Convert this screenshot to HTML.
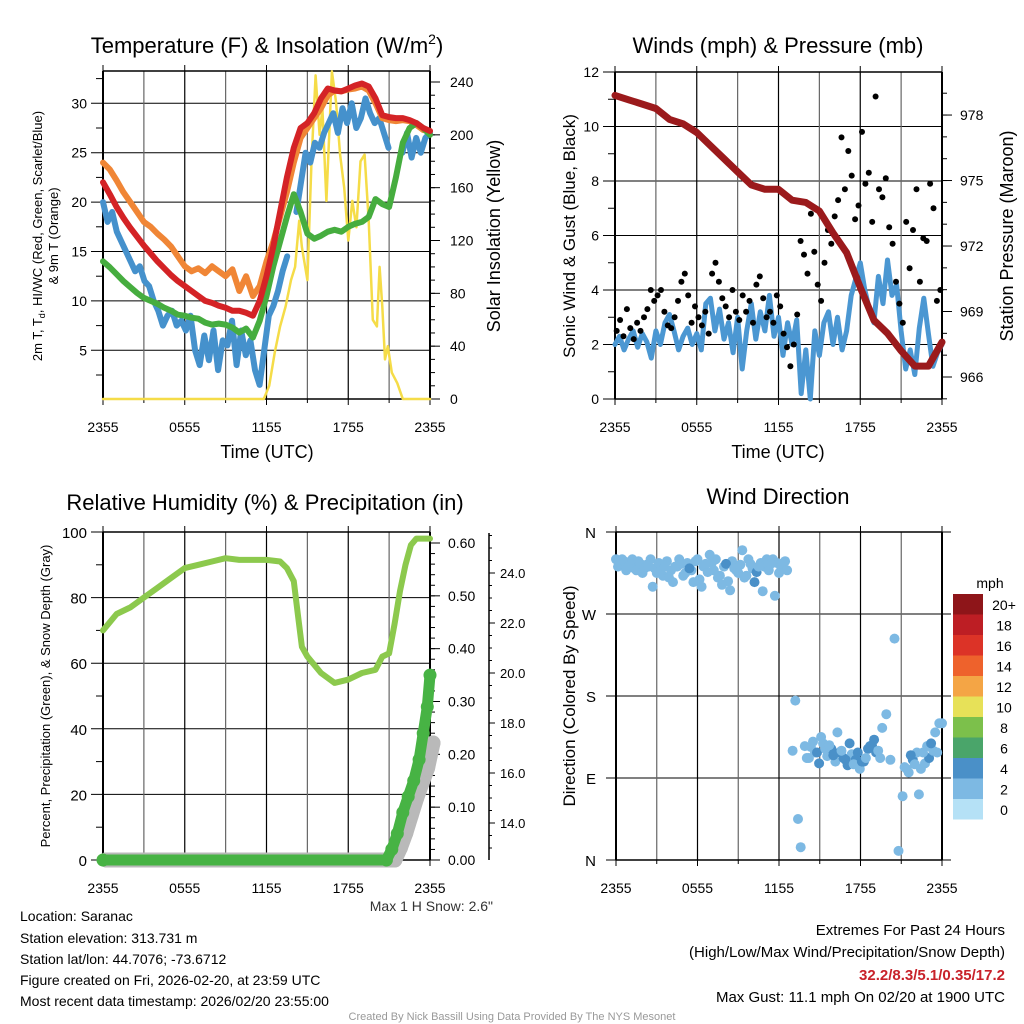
<!DOCTYPE html>
<html><head><meta charset="utf-8"><style>
body{margin:0;background:#fff}
svg{display:block;font-family:"Liberation Sans",sans-serif}
</style></head><body>
<svg id="s" width="1024" height="1024" viewBox="0 0 1024 1024" xmlns="http://www.w3.org/2000/svg">
<rect width="1024" height="1024" fill="#fff"/>
<g font-size="22" text-anchor="middle" fill="#000">
<text x="267" y="53">Temperature (F) &amp; Insolation (W/m<tspan font-size="14" dy="-9">2</tspan><tspan dy="9">)</tspan></text>
<text x="778" y="53">Winds (mph) &amp; Pressure (mb)</text>
<text x="265" y="510">Relative Humidity (%) &amp; Precipitation (in)</text>
<text x="778" y="504">Wind Direction</text>
</g>
<g font-size="18" text-anchor="middle">
<text x="267" y="458">Time (UTC)</text>
<text x="778" y="458">Time (UTC)</text>
<text transform="translate(500,236) rotate(-90)">Solar Insolation (Yellow)</text>
<text transform="translate(575,236) rotate(-90)" font-size="17">Sonic Wind &amp; Gust (Blue, Black)</text>
<text transform="translate(1013,236) rotate(-90)">Station Pressure (Maroon)</text>
<text transform="translate(575,696) rotate(-90)" font-size="17">Direction (Colored By Speed)</text>
</g>
<g font-size="13" text-anchor="middle">
<text transform="translate(42,236) rotate(-90)">2m T, T<tspan font-size="9" dy="3">d</tspan><tspan dy="-3">, HI/WC (Red, Green, Scarlet/Blue)</tspan></text>
<text transform="translate(58,236) rotate(-90)">&amp; 9m T (Orange)</text>
<text transform="translate(50,696) rotate(-90)">Percent, Precipitation (Green), &amp; Snow Depth (Gray)</text>
</g>
<text x="493" y="911" font-size="14" text-anchor="end" fill="#333">Max 1 H Snow: 2.6"</text>
<g font-size="14">
<text x="20" y="921">Location: Saranac</text>
<text x="20" y="943">Station elevation: 313.731 m</text>
<text x="20" y="964">Station lat/lon: 44.7076; -73.6712</text>
<text x="20" y="985">Figure created on Fri, 2026-02-20, at 23:59 UTC</text>
<text x="20" y="1006">Most recent data timestamp: 2026/02/20 23:55:00</text>
</g>
<g font-size="15" text-anchor="end">
<text x="1005" y="935">Extremes For Past 24 Hours</text>
<text x="1005" y="957">(High/Low/Max Wind/Precipitation/Snow Depth)</text>
<text x="1005" y="980" fill="#c8222a" font-weight="bold">32.2/8.3/5.1/0.35/17.2</text>
<text x="1005" y="1002">Max Gust: 11.1 mph On 02/20 at 1900 UTC</text>
</g>
<text x="512" y="1020" font-size="11" fill="#999" text-anchor="middle">Created By Nick Bassill Using Data Provided By The NYS Mesonet</text>
<g id="charts"></g>
</svg>
<script>
// ---- data ----
const xTickLabels = ["2355","0555","1155","1755","2355"];
const tempTicks = [5,10,15,20,25,30];
const solarTicks = [0,40,80,120,160,200,240];
const windTicks = [0,2,4,6,8,10,12];
const pressTicks = [966,969,972,975,978];
const rhTicks = [0,20,40,60,80,100];
const precipTicks = [0,0.1,0.2,0.3,0.4,0.5,0.6];
const snowTicks = [14,16,18,20,22,24];
const dirTicks = ["N","E","S","W","N"];
const legendLabels = ["20+","18","16","14","12","10","8","6","4","2","0"];
const orangeT = [24,23.3,22.2,21,20,19,18,17.5,16.8,16.2,15.5,14.5,13.5,13,13.3,12.8,13.5,13,12.5,13.2,11,12.5,10.5,11.5,14,16,18.5,21,24,26.5,27.5,28.5,29.5,30.8,31.3,31.2,31.4,31.5,31.7,31.3,30,28.5,28.3,28.2,28.3,28.2,27.8,27.3,27.2];
const redT = [22,20.8,19.5,18.4,17.4,16.5,15.6,14.8,14,13.3,12.6,12,11.5,11,10.5,10,9.8,9.5,9.3,9,9,8.8,8.5,10,12.5,15.5,19,22.5,25.5,27.5,28,29,30.5,31.5,31.3,31.2,31.5,31.8,32,31.7,30.5,28.8,28.6,28.5,28.5,28.3,28,27.5,27.2];
const greenTd = [14,13.4,12.7,12,11.4,10.8,10.3,10,9.7,9.3,9,8.6,8.5,8.3,8.2,7.8,7.6,7.7,7.6,7.3,6.8,7.2,6.3,8,10.5,13.5,16,18.5,20.8,19,16.8,16.3,16.6,17,17.2,17,17.5,17.8,18,18.5,20.3,19.8,19.5,22.5,26,27.5,28,27.5,26.8];
const blueWC = [20,18,19,17,16,15,14,13,13.5,12,11.5,10,9,7.5,8.5,9,7.5,8,7,8.5,5,3.5,6.5,4,7,3,6,5.5,8,3.5,7,4.5,6,3,1.5,5,8.5,9.5,11,13,14.5,null,19,22,25,24,26,25.5,27,28,29,27,29.5,28,30,27.5,28.5,30.5,29,28,28.5,27,25.5,null,null,25,27,24.5,26.5,25,26.5,27];
const solarTimes = [0,11.8,12.2,12.6,13,13.4,13.8,14.1,14.4,14.6,15,15.3,15.6,15.9,16.1,16.4,16.8,17.1,17.4,17.7,18,18.3,18.6,18.9,19.2,19.5,19.8,20.1,20.3,20.5,20.7,20.9,21.2,21.6,22,24];
const solarVals = [0,0,10,35,55,70,90,100,135,115,90,180,245,200,220,150,248,225,185,160,120,150,130,180,185,135,60,55,100,70,30,40,20,12,0,0];
const windSpd = [2,2.3,1.8,2.2,2.5,1.9,2.4,2.1,1.5,2.5,2,2.8,3.1,2.5,1.8,2.3,2.6,2,2.4,1.8,3.5,3.7,2.5,3.3,2.2,2.8,1.7,3,1.1,2.5,3.5,2.2,3.2,2.5,3.8,2.3,3,1.6,2.8,2,2.9,0.2,1.8,0,2.5,1.6,2.8,3.2,2,3,1.8,2.5,3.8,4.4,5,4,3.3,2.8,4.5,3.5,5.1,3.8,4.2,2.5,1.1,1.8,0.9,2.6,3.7,2.4,1.2,1.7,2];
const gusts = [2.5,2.9,2.3,3.3,2.6,2.2,2.8,2.5,3.0,3.3,4.0,3.6, 3.8,4.0,3.2,2.7,2.6,3.0,3.6,4.3,4.6,3.8,2.8,3.4, 3.0,2.7,3.2,2.4,4.6,5.0,4.3,3.7,3.4,3.0,4.0,3.2, 2.9,3.8,3.2,3.6,2.8,4.2,4.5,3.7,3.0,3.2,2.8,3.8, 3.4,2.4,1.9,1.2,2.0,3.1,5.8,5.3,4.6,6.8,5.4,4.2, 3.6,5.0,6.2,5.7,6.7,7.3,9.6,7.7,9.1,8.2,6.6,7.1, 9.8,7.9,8.3,6.5,11.1,7.7,7.4,8.1,6.3,5.7,4.3,3.5, 2.8,6.5,4.8,6.2,7.7,4.3,5.9,5.8,7.9,7.0,3.6,4.0];
const pressure = [978.9,978.7,978.5,978.3,977.8,977.6,977.2,976.6,976.0,975.4,974.8,974.6,974.6,974.1,974.0,973.6,972.6,971.7,970.1,968.6,968.0,967.2,966.5,966.5,967.6];
const rhTimes = [0,1,2,3,4,5,6,7,8,9,10,11,12,13,13.5,14,14.3,14.6,15,16,17,18,19,20,20.5,21,21.4,21.8,22.2,22.6,23,24];
const rhVals = [70,75,77,80,83,86,89,90,91,92,91.5,91.5,91.5,91,89,85,75,65,62,57,54,55,57,58,62,63,72,82,90,96,98,98];
const precipTimes = [0,20.8,21.2,21.6,22,22.4,22.8,23.2,23.5,23.8,24];
const precipVals = [0,0,0.02,0.05,0.09,0.12,0.15,0.19,0.24,0.29,0.35];
const snowTimes = [0,21.2,21.6,22,22.4,22.8,23.2,23.6,24];
const snowVals = [12.5,12.5,13,13.6,14.3,15,15.6,16.2,17.2];
const dirTimes = [0,0.3,0.6,0.9,1.2,1.5,1.8,2.1,2.4,2.7,3,3.3,3.6,3.9,4.2,4.5,4.8,5.1,5.4,5.7,6,6.3,6.6,6.9,7.2,7.5,7.8,8.1,8.4,8.7,9,9.3,9.6,9.9,10.2,10.5,10.8,11.1,11.4,11.7,12,12.3,12.6,13.0,13.2,13.4,13.6,13.9,14.2,14.5,14.8,15.1,15.4,15.7,16,16.3,16.6,16.9,17.2,17.5,17.8,18.1,18.4,18.7,19,19.3,19.6,19.9,20.2,20.5,20.8,21.1,21.4,21.7,22,22.3,22.6,22.9,23.2,23.5,23.8,24];
const dirVals = [330,325,328,322,330,318,325,320,322,300,315,318,322,310,305,322,325,315,320,305,330,300,325,335,318,310,302,325,296,320,315,340,312,325,305,322,295,330,325,290,315,326,318,120,175,45,14,125,112,130,118,135,122,126,115,140,120,110,128,105,118,108,112,125,132,120,145,160,110,243,10,70,100,115,105,72,118,125,128,140,150,150];
const dirSpeeds = [2,2,2,2,2,2,2,0,2,2,2,2,2,2,2,2,2,2,4,2,2,2,2,2,2,2,2,4,2,2,2,2,2,2,4,2,2,2,2,2,2,2,0,2,0,0,0,2,2,2,4,2,2,2,4,2,2,4,4,2,4,4,2,4,4,2,2,0,2,0,0,2,2,4,2,2,2,2,4,2,2,2];
const dirTimes2 = [0.15,0.45,0.75,1.05,1.35,1.65,1.95,2.25,2.55,2.85,3.15,3.45,3.75,4.05,4.35,4.65,4.95,5.25,5.55,5.85,6.15,6.45,6.75,7.05,7.35,7.65,7.95,8.25,8.55,8.85,9.15,9.45,9.75,10.05,10.35,10.65,10.95,11.25,11.55,11.85,12.15,12.45,14.05,14.35,14.65,14.95,15.25,15.55,15.85,16.15,16.45,16.75,17.05,17.35,17.65,17.95,18.25,18.55,18.85,19.15,19.45,21.25,21.55,21.85,22.15,22.45,22.75,23.05,23.35,23.65];
const dirVals2 = [322,330,318,326,320,328,315,324,330,320,326,312,328,318,322,330,312,326,318,328,308,322,316,326,330,312,322,306,328,318,324,310,330,320,316,326,322,318,330,326,322,328,112,124,118,106,128,114,122,108,118,112,104,116,110,100,108,122,126,118,112,102,96,110,118,100,106,112,120,118];
const dirSpeeds2 = [2,2,2,2,2,2,2,2,2,2,2,2,2,2,2,2,2,2,2,2,2,2,2,2,2,2,2,2,2,2,2,2,2,2,4,2,2,2,2,2,2,2,2,2,2,4,2,2,4,2,4,4,4,2,4,2,4,4,4,4,2,2,2,4,2,2,2,4,2,2];
const legendColors = ["#8e1519","#bd1e24","#dc3327","#ee622c","#f4a545","#e7e158","#7cc04b","#4aa56a","#4a90c8","#7db9e3","#b5e1f6"];

// ---- drawing ----
const NS="http://www.w3.org/2000/svg";
const root=document.getElementById("charts");
function mk(tag,parent){const e=document.createElementNS(NS,tag);(parent||root).appendChild(e);return e;}
function line(x1,y1,x2,y2,stroke,w,name){const l=mk("line");l.setAttribute("x1",x1);l.setAttribute("y1",y1);l.setAttribute("x2",x2);l.setAttribute("y2",y2);l.setAttribute("stroke",stroke);l.setAttribute("stroke-width",w);


return l;}
function text(x,y,s,anchor,size,name){const t=mk("text");t.setAttribute("x",x);t.setAttribute("y",y);t.setAttribute("text-anchor",anchor);t.setAttribute("font-size",size);t.textContent=s;


return t;}
function poly(pts,color,w,name){const p=mk("polyline");p.setAttribute("points",pts.map(a=>a[0].toFixed(1)+","+a[1].toFixed(1)).join(" "));p.setAttribute("fill","none");p.setAttribute("stroke",color);p.setAttribute("stroke-width",w);p.setAttribute("stroke-linejoin","round");p.setAttribute("stroke-linecap","round");


return p;}
function dot(x,y,r,color,name){const c=mk("circle");c.setAttribute("cx",x.toFixed(1));c.setAttribute("cy",y.toFixed(1));c.setAttribute("r",r);c.setAttribute("fill",color);


return c;}
function seriesIdx(arr,xs,ys){const segs=[];let cur=[];arr.forEach((v,i)=>{if(v===null){if(cur.length)segs.push(cur);cur=[];}else cur.push([xs(i*24/(arr.length-1)),ys(v)]);});if(cur.length)segs.push(cur);return segs;}
function frame(P,name){
  for(let h=3;h<24;h+=3){line(P.xs(h),P.y0,P.xs(h),P.y1,(h%6===0)?"#000":"#666",1.2,name+"-vgrid");}
  xTickLabels.forEach((s,i)=>{const x=P.xs(i*6);text(x,P.y1+33,s,"middle",14,name+"-x-tick");line(x,P.y1,x,P.y1+6,"#000",1,name+"-x-tick-mark");line(x,P.y0,x,P.y0-6,"#000",1,name+"-x-tick-mark-top");});
  for(let h=3;h<24;h+=6){line(P.xs(h),P.y1,P.xs(h),P.y1+4,"#000",1,name+"-x-minor");}
  line(P.x0,P.y0,P.x1,P.y0,"#000",1.5,name+"-border-top");line(P.x0,P.y1,P.x1,P.y1,"#000",1.5,name+"-border-bottom");
  line(P.x0,P.y0,P.x0,P.y1,"#000",2,name+"-border-left");line(P.x1,P.y0,P.x1,P.y1,"#000",2,name+"-border-right");
}
// Panel 1
(function(){
  const P={x0:103,x1:430,y0:71,y1:399};P.xs=t=>P.x0+t/24*(P.x1-P.x0);
  const yL=v=>399.7-v*9.88, yR=v=>399-v*1.3208;
  tempTicks.forEach(v=>{line(P.x0-12,yL(v),P.x1,yL(v),"#000",1,"temp-hgrid");text(P.x0-16,yL(v)+5,String(v),"end",14,"temp-y-tick");});
  for(let v=2.5;v<33;v+=5)line(P.x0-7,yL(v),P.x0,yL(v),"#000",1,"temp-y-minor");
  solarTicks.forEach(v=>{line(P.x1,yR(v),P.x1+10,yR(v),"#000",1,"solar-y-tick-mark");text(P.x1+20,yR(v)+5,String(v),"start",14,"solar-y-tick");});
  for(let v=10;v<248;v+=10)line(P.x1,yR(v),P.x1+5,yR(v),"#000",1,"solar-y-minor");
  frame(P,"temp");
  poly(solarTimes.map((t,i)=>[P.xs(t),yR(solarVals[i])]),"#f5dc48",2.5,"solar-line");
  seriesIdx(blueWC,P.xs,yL).forEach(s=>poly(s,"#4591cc",6,"windchill-line"));
  poly(seriesIdx(orangeT,P.xs,yL)[0],"#f08636",6,"temp-9m-line");
  poly(seriesIdx(greenTd,P.xs,yL)[0],"#46ad3f",6,"dewpoint-line");
  poly(seriesIdx(redT,P.xs,yL)[0],"#d42326",6,"temp-2m-line");
})();
// Panel 2
(function(){
  const P={x0:615,x1:942,y0:72,y1:399};P.xs=t=>P.x0+t/24*(P.x1-P.x0);
  const yL=v=>399-v*27.25, yR=p=>377-(p-966)*21.83;
  windTicks.forEach(v=>{line(P.x0-12,yL(v),P.x1,yL(v),"#000",1,"wind-hgrid");text(P.x0-16,yL(v)+5,String(v),"end",14,"wind-y-tick");});
  for(let v=1;v<12;v+=2)line(P.x0-7,yL(v),P.x0,yL(v),"#000",1,"wind-y-minor");
  pressTicks.forEach(v=>{line(P.x1,yR(v),P.x1+10,yR(v),"#000",1,"pressure-y-tick-mark");text(P.x1+18,yR(v)+5,String(v),"start",14,"pressure-y-tick");});
  for(let v=965;v<980;v++)line(P.x1,yR(v),P.x1+5,yR(v),"#000",1,"pressure-y-minor");
  frame(P,"wind");
  poly(seriesIdx(windSpd,P.xs,yL)[0],"#4b97d2",5,"wind-speed-line");
  gusts.forEach((g,i)=>dot(P.xs((i+0.5)*24/gusts.length),yL(g),3,"#000","gust-point"));
  poly(seriesIdx(pressure,P.xs,yR)[0],"#9b1a1c",7,"pressure-line");
})();
// Panel 3
(function(){
  const P={x0:103,x1:430,y0:532,y1:860};P.xs=t=>P.x0+t/24*(P.x1-P.x0);
  const yL=v=>860-v*3.28, yP=v=>860-v*(317/0.6), yS=s=>823-(s-14)*25;
  rhTicks.forEach(v=>{line(P.x0-12,yL(v),P.x1,yL(v),"#000",1,"rh-hgrid");text(P.x0-16,yL(v)+6,String(v),"end",15,"rh-y-tick");});
  for(let v=10;v<100;v+=20)line(P.x0-7,yL(v),P.x0,yL(v),"#000",1,"rh-y-minor");
  precipTicks.forEach(v=>{line(P.x1,yP(v),P.x1+10,yP(v),"#000",1,"precip-y-tick-mark");text(P.x1+18,yP(v)+5,v.toFixed(2),"start",14,"precip-y-tick");});
  for(let v=0.02;v<0.62;v+=0.02)line(P.x1,yP(v),P.x1+5,yP(v),"#000",1,"precip-y-minor");
  line(489,533,489,860,"#000",1.5,"snow-axis");
  snowTicks.forEach(v=>{line(489,yS(v),495,yS(v),"#000",1,"snow-y-tick-mark");text(500,yS(v)+5,v.toFixed(1),"start",13,"snow-y-tick");});
  for(let v=13;v<26;v+=0.5)line(489,yS(v),492,yS(v),"#000",1,"snow-y-minor");
  frame(P,"rh");
  poly(snowTimes.map((t,i)=>[P.xs(t)+3,Math.min(yS(snowVals[i]),860)]),"#b9b9b9",15,"snow-depth-line");
  snowTimes.forEach((t,i)=>dot(P.xs(t)+3,Math.min(yS(snowVals[i]),860),7.5,"#b9b9b9","snow-point"));
  poly(precipTimes.map((t,i)=>[P.xs(t),yP(precipVals[i])]),"#47b344",11,"precip-line");
  precipTimes.forEach((t,i)=>dot(P.xs(t),yP(precipVals[i]),6.5,"#47b344","precip-point"));
  poly(rhTimes.map((t,i)=>[P.xs(t),yL(rhVals[i])]),"#8cc94d",6,"rh-line");
})();
// Panel 4
(function(){
  const P={x0:616,x1:942,y0:532,y1:860};P.xs=t=>P.x0+t/24*(P.x1-P.x0);
  const yD=d=>860-d/360*328;
  dirTicks.forEach((s,i)=>{const y=yD(i*90);line(606,y,951,y,"#000",1,"dir-hgrid");text(596,y+6,s,"end",15,"dir-y-tick");});
  frame(P,"dir");
  const colorFor=s=>legendColors[10-Math.min(10,Math.floor(s/2))];
  dirTimes2.forEach((t,i)=>{if(i<dirVals2.length)dot(P.xs(t),yD(dirVals2[i]),5,colorFor(dirSpeeds2[i]||2),"direction-point");});
  dirTimes.forEach((t,i)=>{if(i<dirVals.length)dot(P.xs(t),yD(dirVals[i]),5,colorFor(dirSpeeds[i]||2),"direction-point");});
  text(990,588,"mph","middle",14,"legend-title");
  legendColors.forEach((c,i)=>{const r=mk("rect");r.setAttribute("x",953);r.setAttribute("y",594+i*20.5);r.setAttribute("width",30);r.setAttribute("height",20.5);r.setAttribute("fill",c);
    
    
    text(1004,594+i*20.5+16,legendLabels[i],"middle",14,"legend-label");});
})();
</script>
</body></html>
